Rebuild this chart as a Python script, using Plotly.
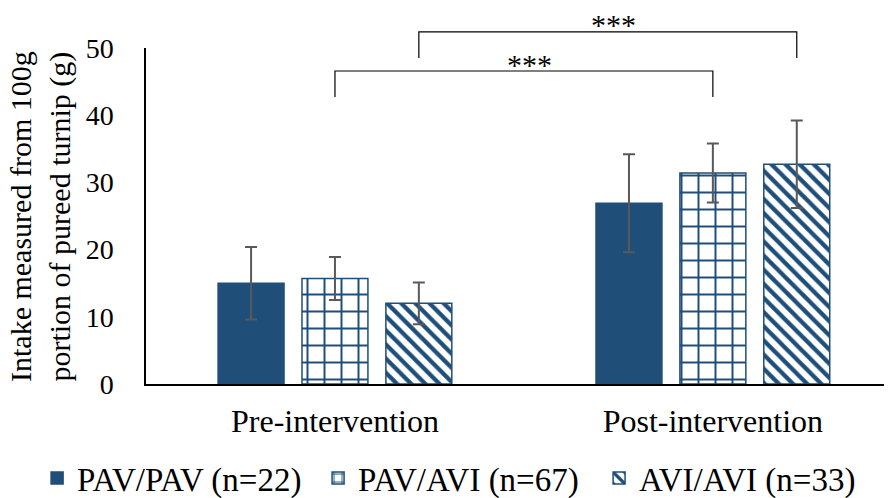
import plotly.graph_objects as go

categories = ["Pre-intervention", "Post-intervention"]
series_names = ["PAV/PAV (n=22)", "PAV/AVI (n=67)", "AVI/AVI (n=33)"]
pav_pav = [15.0, 26.9]
pav_avi = [15.7, 31.4]
avi_avi = [12.0, 32.7]
pav_pav_err = [5.4, 7.3]
pav_avi_err = [3.2, 4.4]
avi_avi_err = [3.1, 6.5]
y_ticks = [0, 10, 20, 30, 40, 50]
y_title = "Intake measured from 100g<br>portion of pureed turnip (g)"
sig_label = "***"

BLUE = "#1F4E79"
FONT = "Liberation Serif, Times New Roman, serif"

fig = go.Figure()
patterns = [dict(shape=""),
            dict(shape="+", size=17, solidity=0.22, fgcolor=BLUE, bgcolor="white", fgopacity=1, fillmode="overlay"),
            dict(shape="\\", size=10, solidity=0.42, fgcolor=BLUE, bgcolor="white", fgopacity=1, fillmode="overlay")]
colors = [BLUE, "white", "white"]
for name, vals, errs, pat, col in zip(series_names, [pav_pav, pav_avi, avi_avi],
                                       [pav_pav_err, pav_avi_err, avi_avi_err], patterns, colors):
    fig.add_trace(go.Bar(
        x=categories, y=vals, name=name,
        marker=dict(color=col, pattern=pat, line=dict(color=BLUE, width=1.5)),
        error_y=dict(type="data", array=errs, color="#595959", thickness=2, width=6),
    ))

# significance brackets (x in category units: group offsets of bars)
off = (1 - 0.334) / 3
brackets = [
    (0.0, 1.0, 0.854, 0.9315),
    (off, 1 + off, 0.970, 1.048),
]
for x0, x1, yb, yt in brackets:
    fig.add_shape(type="path", xref="x", yref="paper",
                  path=f"M {x0},{yb} L {x0},{yt} L {x1},{yt} L {x1},{yb}",
                  line=dict(color="black", width=1.2))
    fig.add_annotation(x=(x0 + x1) / 2, y=yt, xref="x", yref="paper", text=sig_label,
                       showarrow=False, yanchor="middle", xshift=6, yshift=7,
                       font=dict(family=FONT, size=30, color="black"))

# y-axis title as rotated annotation
fig.add_annotation(x=-0.1421, y=0.5, xref="paper", yref="paper", text=y_title,
                   textangle=-90, showarrow=False, xanchor="center", yanchor="middle",
                   borderpad=0,
                   font=dict(family=FONT, size=30, color="black"))

# page body adds an 8px margin; figure is sized to fit inside the window
fig.update_layout(
    width=884, height=490,
    margin=dict(l=138, r=0, t=40, b=114, autoexpand=False),
    paper_bgcolor="white", plot_bgcolor="white",
    barmode="group", bargap=0.334, bargroupgap=0.214,
    font=dict(family=FONT, color="black"),
    showlegend=True,
    legend=dict(orientation="h", xref="paper", x=-0.146, xanchor="left",
                yref="paper", y=-0.28, yanchor="middle",
                font=dict(family=FONT, size=33), itemwidth=30, tracegroupgap=0,
                entrywidthmode="pixels", entrywidth=236),
    xaxis=dict(range=[-0.5, 1.474], showline=True, linecolor="black", linewidth=1.5,
               ticks="", tickfont=dict(size=32), showgrid=False, ticklabelstandoff=8),
    yaxis=dict(range=[0, 50], tickvals=y_ticks, showline=True, linecolor="black", linewidth=1.5,
               showgrid=False, ticks="", tickfont=dict(size=28), ticklabelstandoff=25,
               zeroline=False),
)

fig.write_html("out.html")
